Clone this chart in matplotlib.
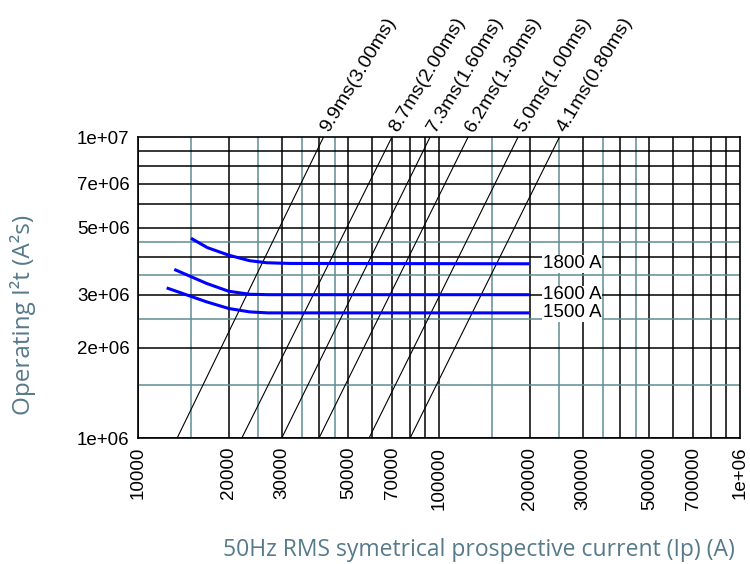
import matplotlib
matplotlib.use("Agg")
import matplotlib.pyplot as plt

# diagonal time lines: current where each line meets I2t = 1e6 and 1e7
time_labels = ["9.9ms(3.00ms)", "8.7ms(2.00ms)", "7.3ms(1.60ms)",
               "6.2ms(1.30ms)", "5.0ms(1.00ms)", "4.1ms(0.80ms)"]
line_i_bottom = [13480, 22100, 30000, 39900, 58500, 80100]
line_i_top = [41300, 69700, 93300, 124800, 182900, 251000]

# operating I2t curves
curve_labels = ["1800 A", "1600 A", "1500 A"]
curve_i = [
    [15000, 17000, 20000, 23500, 26800, 32000, 200000],
    [13200, 16900, 20000, 23500, 27000, 32000, 200000],
    [12450, 16900, 20000, 23500, 27000, 32000, 200000],
]
curve_i2t = [
    [4.62e6, 4.30e6, 4.06e6, 3.89e6, 3.83e6, 3.81e6, 3.80e6],
    [3.64e6, 3.27e6, 3.08e6, 3.01e6, 3.00e6, 3.00e6, 3.00e6],
    [3.16e6, 2.84e6, 2.70e6, 2.63e6, 2.61e6, 2.61e6, 2.61e6],
]

x_ticks = [10000, 20000, 30000, 50000, 70000, 100000, 200000, 300000,
           500000, 700000, 1000000]
x_tick_labels = ["10000", "20000", "30000", "50000", "70000", "100000",
                 "200000", "300000", "500000", "700000", "1e+06"]
y_ticks = [1e6, 2e6, 3e6, 5e6, 7e6, 1e7]
y_tick_labels = ["1e+06", "2e+06", "3e+06", "5e+06", "7e+06", "1e+07"]

black_mult = [1, 2, 3, 4, 5, 6, 7, 8, 9]
teal_mult = [1.5, 2.5, 3.5, 4.5]

teal = "#5f8d93"
label_col = "#567a8a"

plt.rcParams["font.family"] = ["Liberation Sans", "DejaVu Sans"]

fig = plt.figure(figsize=(7.5, 5.64), dpi=100)
ax = fig.add_axes([138 / 750, 1 - 438.3 / 564, 602 / 750, 301 / 564])
ax.set_xscale("log")
ax.set_yscale("log")
ax.set_xlim(1e4, 1e6)
ax.set_ylim(1e6, 1e7)

# grid
for d in [1e4, 1e5]:
    for m in teal_mult:
        ax.axvline(m * d, color=teal, lw=1.1, zorder=1)
    for m in black_mult:
        ax.axvline(m * d, color="black", lw=1.1, zorder=1)
for m in teal_mult:
    ax.axhline(m * 1e6, color=teal, lw=1.1, zorder=1)
for m in black_mult:
    ax.axhline(m * 1e6, color="black", lw=1.1, zorder=1)

# diagonal lines with labels
for lab, i0, i1 in zip(time_labels, line_i_bottom, line_i_top):
    ax.plot([i0, i1], [1e6, 1e7], color="black", lw=0.8, zorder=2)
    ax.annotate(lab, (i1, 1e7), xytext=(4, 3), textcoords="offset points",
                rotation=59, rotation_mode="anchor", ha="left", va="baseline",
                fontsize=14, annotation_clip=False)

# I2t curves
for lab, xs, ys in zip(curve_labels, curve_i, curve_i2t):
    ax.plot(xs, ys, color="#0000ff", lw=2.2, zorder=3, solid_capstyle="butt")
    ax.text(221000, ys[-1] * 1.0, lab, fontsize=13.5, ha="left", va="center",
            zorder=4, bbox=dict(facecolor="white", edgecolor="none", pad=0.3))

ax.set_xticks(x_ticks)
ax.set_xticklabels(x_tick_labels, rotation=90, fontsize=13.5)
ax.set_yticks(y_ticks)
ax.set_yticklabels(y_tick_labels, fontsize=13.5)
ax.minorticks_off()
ax.tick_params(length=0, pad=6)
for s in ax.spines.values():
    s.set_linewidth(1.2)
    s.set_zorder(5)

fig.text(223 / 750, 8 / 564, "50Hz RMS symetrical prospective current (Ip) (A)",
         family=["Open Sans", "DejaVu Sans"], fontsize=16.5, color=label_col,
         ha="left", va="baseline")
fig.text(23 / 750, 1 - 315 / 564, "Operating I²t (A²s)",
         family=["Open Sans", "DejaVu Sans"], fontsize=17.5, color=label_col,
         rotation=90, ha="center", va="center")

fig.savefig("out.png", dpi=100)
